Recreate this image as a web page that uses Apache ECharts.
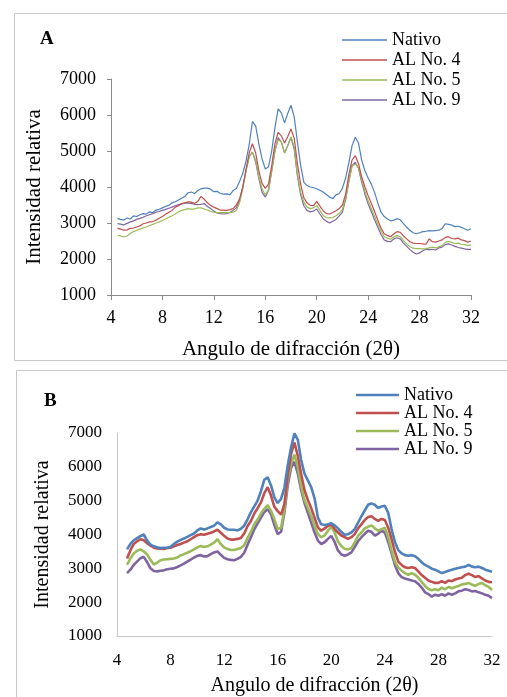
<!DOCTYPE html>
<html>
<head>
<meta charset="utf-8">
<script src="https://cdn.jsdelivr.net/npm/echarts@6/dist/echarts.min.js"></script>
<style>
html,body{margin:0;padding:0;background:#fff;}
#c{width:507px;height:697px;}
</style>
</head>
<body>
<div id="c"></div>
<script>
// ---------- data ----------
const seriesNames = ['Nativo', 'AL No. 4', 'AL No. 5', 'AL No. 9'];
const xTicks = [4, 8, 12, 16, 20, 24, 28, 32];
const yTicks = [1000, 2000, 3000, 4000, 5000, 6000, 7000];

// Panel A: diffraction angle (2θ)
const anglesA = [4.5,4.75,5,5.25,5.5,5.75,6,6.25,6.5,6.75,7,7.25,7.5,7.75,8,8.25,8.5,8.75,9,9.25,9.5,9.75,10,10.25,10.5,10.75,11,11.25,11.5,11.75,12,12.25,12.5,12.75,13,13.25,13.5,13.75,14,14.25,14.5,14.75,15,15.25,15.5,15.75,16,16.25,16.5,16.75,17,17.25,17.5,17.75,18,18.25,18.5,18.75,19,19.25,19.5,19.75,20,20.25,20.5,20.75,21,21.25,21.5,21.75,22,22.25,22.5,22.75,23,23.25,23.5,23.75,24,24.25,24.5,24.75,25,25.25,25.5,25.75,26,26.25,26.5,26.75,27,27.25,27.5,27.75,28,28.25,28.5,28.75,29,29.25,29.5,29.75,30,30.25,30.5,30.75,31,31.25,31.5,31.75,32];
const nativoA = [3130,3100,3080,3140,3110,3200,3180,3230,3260,3250,3310,3290,3360,3380,3420,3460,3490,3560,3590,3640,3690,3740,3840,3860,3820,3900,3950,3970,3970,3940,3870,3880,3820,3800,3810,3790,3900,3960,4150,4380,4720,5180,5820,5700,5200,4780,4500,4560,5000,5650,6170,6060,5780,6050,6270,5950,5250,4600,4130,4040,4000,3980,3950,3910,3860,3790,3720,3680,3780,3820,3960,4250,4680,5150,5380,5220,4740,4450,4250,4080,3850,3560,3300,3180,3110,3060,3080,3120,3090,2980,2880,2800,2730,2700,2730,2760,2770,2790,2780,2790,2800,2850,2980,2960,2940,2900,2910,2880,2840,2800,2840];
const al4A = [2850,2830,2800,2810,2850,2860,2890,2920,2980,3000,3030,3040,3080,3130,3180,3240,3300,3350,3440,3480,3540,3560,3590,3580,3540,3600,3740,3660,3560,3490,3440,3400,3360,3360,3350,3370,3400,3500,3670,4000,4500,4950,5200,4950,4450,4100,3960,4080,4600,5200,5520,5420,5220,5400,5610,5350,4650,4080,3700,3560,3490,3480,3600,3470,3340,3260,3250,3290,3340,3400,3500,3800,4350,4750,4870,4650,4280,4000,3760,3540,3320,3080,2860,2700,2650,2620,2700,2760,2740,2640,2560,2480,2440,2430,2430,2420,2410,2560,2480,2470,2500,2530,2600,2620,2570,2560,2580,2530,2510,2470,2500];
const al5A = [2660,2640,2610,2640,2710,2760,2800,2830,2860,2890,2930,2960,3000,3030,3070,3110,3160,3200,3250,3310,3350,3370,3400,3380,3390,3420,3420,3390,3360,3320,3300,3290,3290,3290,3290,3290,3300,3350,3560,3950,4450,4850,4960,4750,4280,3950,3780,3920,4450,5000,5320,5250,4940,5150,5400,5100,4350,3850,3580,3440,3400,3420,3490,3350,3210,3150,3140,3150,3200,3270,3370,3700,4180,4580,4640,4530,4190,3880,3620,3400,3180,2970,2780,2620,2580,2550,2620,2650,2620,2510,2420,2340,2300,2290,2290,2280,2290,2310,2330,2310,2340,2370,2460,2490,2460,2430,2440,2410,2400,2380,2390];
const al9A = [2980,2970,2950,2990,3030,3060,3100,3130,3160,3200,3230,3260,3300,3320,3350,3380,3410,3440,3480,3510,3530,3550,3560,3540,3520,3510,3520,3540,3460,3400,3330,3280,3260,3250,3260,3300,3350,3420,3620,4000,4450,4850,4970,4700,4230,3850,3720,3900,4450,5000,5370,5250,4950,5150,5380,5050,4300,3780,3480,3350,3310,3330,3390,3250,3120,3050,3000,3050,3100,3200,3300,3650,4150,4600,4690,4520,4130,3800,3530,3310,3090,2880,2680,2530,2490,2480,2560,2590,2560,2440,2350,2260,2190,2140,2170,2230,2270,2260,2270,2250,2310,2330,2400,2420,2390,2350,2320,2300,2280,2270,2270];

// Panel B
const anglesB = [4.75,5,5.25,5.5,5.75,6,6.25,6.5,6.75,7,7.25,7.5,7.75,8,8.25,8.5,8.75,9,9.25,9.5,9.75,10,10.25,10.5,10.75,11,11.25,11.5,11.75,12,12.25,12.5,12.75,13,13.25,13.5,13.75,14,14.25,14.5,14.75,15,15.25,15.5,15.75,16,16.25,16.5,16.75,17,17.25,17.5,17.75,18,18.25,18.5,18.75,19,19.25,19.5,19.75,20,20.25,20.5,20.75,21,21.25,21.5,21.75,22,22.25,22.5,22.75,23,23.25,23.5,23.75,24,24.25,24.5,24.75,25,25.25,25.5,25.75,26,26.25,26.5,26.75,27,27.25,27.5,27.75,28,28.25,28.5,28.75,29,29.25,29.5,29.75,30,30.25,30.5,30.75,31,31.25,31.5,31.75,32];
const nativoB = [3560,3720,3830,3890,3950,4000,3820,3700,3650,3620,3600,3610,3610,3640,3720,3790,3840,3880,3930,3980,4030,4120,4180,4150,4180,4220,4260,4360,4300,4200,4150,4140,4140,4120,4170,4260,4450,4660,4830,5000,5280,5620,5690,5450,5100,4930,5050,5380,6050,6580,6990,6800,6200,5800,5600,5400,5070,4500,4300,4280,4300,4330,4270,4180,4080,3990,4010,4060,4160,4350,4540,4710,4880,4920,4880,4780,4830,4850,4640,4160,3780,3540,3440,3390,3370,3390,3360,3280,3180,3100,3050,2990,2960,2910,2860,2890,2930,2960,2990,3010,3030,3050,3100,3050,3030,3050,3010,2960,2930,2900];
const al4B = [3290,3530,3720,3800,3860,3830,3740,3670,3610,3590,3580,3570,3600,3610,3650,3690,3720,3760,3800,3860,3920,3980,4010,3990,4020,4050,4090,4140,4050,3960,3880,3850,3850,3870,3900,4030,4250,4400,4620,4780,4950,5220,5400,5150,4820,4690,4590,4900,5750,6380,6720,6320,5790,5310,5020,4780,4500,4210,4110,4180,4250,4300,4160,4060,3970,3920,3870,3920,4010,4180,4300,4430,4520,4540,4460,4400,4460,4430,4200,3870,3490,3200,3100,3030,3010,3030,3010,2910,2800,2720,2640,2600,2570,2570,2620,2570,2640,2620,2670,2700,2720,2800,2840,2800,2740,2770,2700,2640,2600,2590];
const al5B = [3100,3290,3440,3520,3560,3500,3410,3250,3110,3170,3240,3260,3270,3280,3290,3320,3380,3420,3460,3510,3560,3620,3660,3630,3650,3700,3760,3860,3720,3620,3570,3540,3540,3570,3600,3680,3900,4080,4300,4440,4620,4760,4870,4700,4450,4160,4200,4750,5600,6100,6360,5980,5420,5020,4780,4540,4250,4010,3920,3970,4110,4230,4060,3790,3660,3580,3560,3600,3770,3960,4060,4180,4230,4270,4180,4110,4160,4200,3920,3530,3200,3030,2930,2860,2810,2860,2810,2720,2600,2480,2390,2350,2380,2350,2430,2380,2450,2410,2450,2480,2520,2540,2570,2520,2480,2540,2570,2500,2450,2360];
const al9B = [2860,2960,3100,3200,3300,3340,3180,3000,2920,2910,2930,2940,2970,2990,3000,3040,3090,3140,3200,3260,3320,3370,3390,3350,3360,3420,3470,3500,3400,3310,3270,3250,3240,3280,3340,3460,3700,3920,4150,4330,4500,4660,4750,4600,4280,4010,4080,4650,5450,5980,6150,5800,5310,4930,4640,4350,4060,3820,3720,3770,3870,3960,3780,3530,3410,3370,3410,3470,3630,3800,3920,4020,4110,4080,3970,4020,4110,4060,3780,3440,3100,2860,2740,2700,2670,2640,2620,2540,2430,2290,2240,2160,2220,2190,2240,2190,2260,2220,2260,2320,2340,2380,2360,2320,2330,2290,2260,2220,2190,2120];

// ---------- chart ----------
const colors = ['#4F81BD', '#C0504D', '#9BBB59', '#8064A2'];
const FONT = "'Liberation Serif', 'Times New Roman', serif";
const pairs = (xs, ys) => xs.map((x, i) => [x, ys[i]]);

const chart = echarts.init(document.getElementById('c'), null, {renderer: 'canvas'});

function xAxisCfg(gridIndex, opts) {
  return {
    type: 'value', gridIndex,
    min: xTicks[0], max: xTicks[xTicks.length - 1], interval: xTicks[1] - xTicks[0],
    splitLine: {show: false},
    axisLine: {lineStyle: {color: opts.axisColor, width: 1}},
    axisTick: {show: opts.ticks, length: 5, lineStyle: {color: opts.axisColor}},
    axisLabel: {color: '#000', fontFamily: FONT, fontSize: opts.labelSize, margin: opts.xMargin,
                formatter: v => String(v)},
    name: 'Angulo de difracción (2θ)', nameLocation: 'middle', nameGap: opts.xNameGap,
    nameTextStyle: {color: '#000', fontFamily: FONT, fontSize: opts.titleSize, padding: opts.xNamePad}
  };
}
function yAxisCfg(gridIndex, opts) {
  return {
    type: 'value', gridIndex,
    min: yTicks[0], max: yTicks[yTicks.length - 1], interval: yTicks[1] - yTicks[0],
    splitLine: {show: false},
    axisLine: {show: true, lineStyle: {color: opts.axisColor, width: 1}},
    axisTick: {show: opts.ticks, length: 4, lineStyle: {color: opts.axisColor}},
    axisLabel: {color: '#000', fontFamily: FONT, fontSize: opts.labelSize, margin: opts.yMargin,
                formatter: v => String(v)},
    name: 'Intensidad relativa', nameLocation: 'middle', nameGap: opts.yNameGap,
    nameTextStyle: {color: '#000', fontFamily: FONT, fontSize: opts.titleSize}
  };
}

const optA = {axisColor: '#8a8a8a', ticks: true, labelSize: 18, titleSize: 21, xMargin: 14, yMargin: 15, xNameGap: 44, yNameGap: 66, xNamePad: 0};
const optB = {axisColor: '#c8c8c8', ticks: false, labelSize: 17, titleSize: 20, xMargin: 16, yMargin: 15, xNameGap: 40, yNameGap: 64, xNamePad: [0, 0, 0, 20]};

const dataA = [nativoA, al4A, al5A, al9A];
const dataB = [nativoB, al4B, al5B, al9B];

const series = [];
dataA.forEach((d, i) => series.push({
  name: seriesNames[i], type: 'line', xAxisIndex: 0, yAxisIndex: 0,
  data: pairs(anglesA, d), showSymbol: false, symbol: 'none',
  lineStyle: {width: 1.2, color: colors[i]}, itemStyle: {color: colors[i]}, z: 4 - i
}));
dataB.forEach((d, i) => series.push({
  name: seriesNames[i], type: 'line', xAxisIndex: 1, yAxisIndex: 1,
  data: pairs(anglesB, d), showSymbol: false, symbol: 'none',
  lineStyle: {width: 2.6, color: colors[i]}, itemStyle: {color: colors[i]}, z: 4 - i
}));

chart.setOption({
  animation: false,
  backgroundColor: '#fff',
  color: colors,
  grid: [
    {left: 111, right: 36, top: 79, bottom: 402},
    {left: 117, right: 15, top: 433, bottom: 56}
  ],
  xAxis: [xAxisCfg(0, optA), xAxisCfg(1, optB)],
  yAxis: [yAxisCfg(0, optA), yAxisCfg(1, optB)],
  legend: [
    {orient: 'vertical', left: 337, top: 26, itemWidth: 45, itemHeight: 1.3, itemGap: 2,
     data: seriesNames, icon: 'rect',
     textStyle: {color: '#000', fontFamily: FONT, fontSize: 18}, selectedMode: false},
    {orient: 'vertical', left: 351, top: 381, itemWidth: 43, itemHeight: 2.6, itemGap: 0,
     data: seriesNames, icon: 'rect',
     textStyle: {color: '#000', fontFamily: FONT, fontSize: 18}, selectedMode: false}
  ],
  graphic: [
    {type: 'rect', shape: {x: 14.5, y: 13.5, width: 520, height: 347}, style: {fill: 'none', stroke: '#c8c8c8', lineWidth: 1}, silent: true},
    {type: 'rect', shape: {x: 16.5, y: 370.5, width: 520, height: 360}, style: {fill: 'none', stroke: '#c8c8c8', lineWidth: 1}, silent: true},
    {type: 'text', left: 40, top: 30, style: {text: 'A', font: "bold 19px " + FONT, fill: '#000'}},
    {type: 'text', left: 44, top: 392, style: {text: 'B', font: "bold 19px " + FONT, fill: '#000'}}
  ],
  series
});
</script>
</body>
</html>
